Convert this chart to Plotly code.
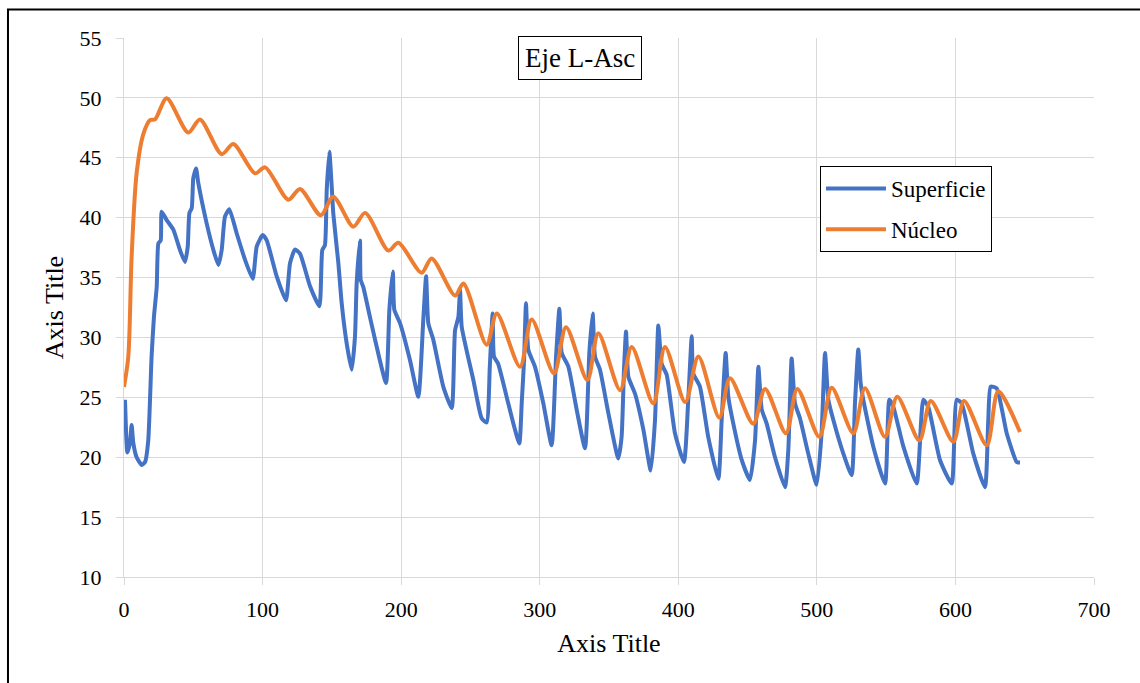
import plotly.graph_objects as go

# Superficie (blue) series
sup_x = [0.7, 1.4, 2.4, 4.3, 5.5, 6.7, 9.1, 12.8, 15.2, 17.5, 19.9, 21.6, 23.6, 24.8, 26.5, 27.2,
         30.8, 35.6, 40.4, 44, 46, 47.2, 48.9, 50, 52, 53.6, 59.7, 64.5, 68.1, 70.5, 72.9, 76,
         81.3, 87.3, 92.9, 95.8, 100.1, 103, 110.2, 116.9, 119.8, 123.4, 127, 134.2, 141, 143.1,
         145, 146.3, 148.2, 149.9, 151, 154.7, 157.1, 160.7, 164.3, 166.7, 167.9, 170.3, 170.8,
         172.7, 177.5, 182.4, 189.1, 191.5, 194, 195.1, 199.2, 206.4, 212.4, 216, 218, 219.6,
         223.2, 230.4, 236.5, 238.9, 241.3, 242.5, 243.7, 252.1, 258.1, 261.7, 264, 266, 267,
         270, 276.1, 281, 285.3, 287, 288.7, 290.1, 291.8, 296.6, 302.6, 308.6, 311.8, 314.2,
         315.9, 320.7, 326.7, 332.7, 335.8, 338.2, 339.9, 343.5, 349.5, 356.7, 359.1, 360.8,
         362.3, 364, 368.8, 374.8, 380.1, 383.2, 385.6, 388, 391.6, 397.6, 404.1, 407.2, 409.7,
         410.8, 415.6, 421.6, 428.9, 431.3, 434.2, 436.1, 439.7, 445.7, 451.7, 455.4, 457.8,
         460.2, 463.8, 469.8, 477.0, 479.4, 481.8, 484.2, 487.8, 493.8, 499.9, 503.4, 505.9,
         508.3, 511.9, 519.1, 525.1, 527.5, 529.9, 531.6, 533.5, 540.7, 549.2, 552.3, 555.2,
         562.4, 572.0, 576.8, 580.4, 588.9, 597.3, 600.9, 604.5, 612.9, 621.3, 623.7, 625.4,
         629.8, 637, 644.2, 646.6]
sup_y = [24.8, 22.4, 20.4, 21.2, 22.7, 21.2, 20.0, 19.35, 19.6, 21.4, 28.4, 31.7, 34.2, 37.85, 38.1, 40.5,
         39.8, 39.0, 37.3, 36.3, 37.6, 40.4, 40.8, 43.3, 44.1, 42.9, 39.5, 37.3, 36.05, 37.3, 40.1, 40.7,
         38.7, 36.5, 34.9, 37.6, 38.55, 38.1, 35.1, 33.1, 36.2, 37.35, 37.0, 34.3, 32.6, 37.3,
         37.7, 42.3, 45.5, 42.6, 40.4, 36.2, 32.85, 29.5, 27.3, 30.1, 34.5, 38.1, 34.8,
         34.2, 31.7, 29.2, 26.2, 32.3, 35.5, 32.3, 31.2, 28.1, 25.05, 31.5, 35.1, 31.2,
         29.8, 25.9, 24.1, 30.6, 31.7, 34.0, 30.9, 26.45, 23.25, 22.9, 27.6, 32.0, 28.4,
         27.8, 25.05, 22.8, 21.15, 24.5, 28.1, 32.85, 28.95, 27.55, 24.5, 21.0, 28.4, 32.4,
         28.7, 27.55, 23.95, 20.75, 28.7, 32.0, 28.4, 27.3, 23.7, 19.9, 21.7, 27.3,
         30.5, 26.7, 25.3, 22.3, 18.9, 23.1, 31.0, 27.8, 26.9, 22.0, 19.6, 24.8, 30.1,
         27.0, 25.9, 21.7, 18.2, 23.1, 28.7, 25.05, 22.8, 19.8, 18.1, 21.4, 27.55,
         24.0, 22.8, 20.0, 17.5, 20.6, 28.25, 24.5, 23.25, 20.3, 17.7, 22.0, 28.7,
         24.8, 23.1, 20.3, 18.5, 24.5, 29.0, 26.2, 24.8, 20.9, 17.8, 24.8, 24.2,
         20.9, 17.8, 24.8, 24.2, 19.75, 17.8, 24.8, 24.5, 20.3, 17.5, 23.1, 25.9,
         25.75, 22.0, 19.6, 19.55]

# Núcleo (orange) series
nuc_x = [0, 3.1, 5.5, 9.1, 14, 18.8, 22.4, 30.8, 46.4, 54.8, 70.5, 78.9, 94.5, 101.8, 118.6, 127,
         142, 151, 165.5, 174, 190.8, 198, 214.8, 222, 238.9, 244.9, 261.7, 269, 285.8, 294.2,
         310.3, 319, 334.4, 342.3, 358, 366.4, 382, 390.4, 405, 414.5, 429.6, 437.3, 454.1,
         462.6, 477.7, 485.9, 501.8, 510.7, 526.3, 534.7, 549.2, 558, 574, 582.2, 598.5, 606.2,
         622.6, 630.9, 646.6]
nuc_y = [25.86, 28.4, 36.7, 43.7, 47.0, 48.15, 48.2, 49.97, 47.1, 48.2, 45.3, 46.15, 43.7, 44.2, 41.5, 42.4,
         40.2, 41.75, 39.25, 40.4, 37.25, 37.9, 35.4, 36.6, 33.5, 34.5, 29.4, 32.0, 27.55, 31.5,
         27.0, 30.85, 26.45, 30.35, 25.6, 29.2, 24.5, 29.2, 24.6, 28.4, 23.3, 26.6, 22.8,
         25.7, 22.0, 25.7, 21.7, 25.8, 22.0, 25.75, 21.7, 25.05, 21.4, 24.7, 21.3, 24.7,
         21.0, 25.5, 22.1]

series_names = ["Superficie", "Núcleo"]
chart_title = "Eje L-Asc"
x_title = "Axis Title"
y_title = "Axis Title"

FONT = "Liberation Serif, Times New Roman, serif"
GRID = "#d9d9d9"

fig = go.Figure()
fig.add_trace(go.Scatter(x=sup_x, y=sup_y, mode="lines", name=series_names[0],
                         legendgroup="a",
                         line=dict(color="#4472C4", width=4, shape="spline", smoothing=0.5)))
fig.add_trace(go.Scatter(x=nuc_x, y=nuc_y, mode="lines", name=series_names[1],
                         legendgroup="b",
                         line=dict(color="#ED7D31", width=4, shape="spline", smoothing=0.8)))

fig.update_layout(
    width=1140, height=683,
    margin=dict(l=124, r=46, t=38, b=106),
    paper_bgcolor="white", plot_bgcolor="white",
    font=dict(family=FONT, color="black", size=22),
    showlegend=True,
    legend=dict(x=0.7175, y=0.7625, xanchor="left", yanchor="top",
                bordercolor="black", borderwidth=1, bgcolor="white",
                font=dict(family=FONT, size=23, color="black"),
                tracegroupgap=8, itemwidth=60),
    xaxis=dict(range=[0, 700], dtick=100, tick0=0, showgrid=True, gridcolor=GRID, gridwidth=1,
               showline=True, linecolor=GRID, linewidth=1, ticks="outside", tickcolor=GRID,
               ticklen=7, zeroline=False, ticklabelstandoff=6,
               tickfont=dict(family=FONT, size=22, color="black"),
               title=dict(text=x_title, font=dict(family=FONT, size=26, color="black"), standoff=12)),
    yaxis=dict(range=[10, 55], dtick=5, tick0=10, showgrid=True, gridcolor=GRID, gridwidth=1,
               showline=True, linecolor=GRID, linewidth=1, ticks="outside", tickcolor=GRID,
               ticklen=7, zeroline=False, ticklabelstandoff=10,
               tickfont=dict(family=FONT, size=22, color="black"),
               title=dict(text=y_title, font=dict(family=FONT, size=26, color="black"), standoff=8)),
    annotations=[dict(text=chart_title, xref="paper", yref="paper", x=0.470, y=0.962,
                      xanchor="center", yanchor="middle", showarrow=False,
                      font=dict(family=FONT, size=27, color="black"),
                      bordercolor="black", borderwidth=1, borderpad=6, bgcolor="white")],
    shapes=[dict(type="rect", xref="paper", yref="paper",
                 x0=-0.1196, x1=1.06, y0=-0.22, y1=1.0529,
                 line=dict(color="black", width=2), fillcolor="rgba(0,0,0,0)", layer="above")],
)

fig.write_html("out.html", config={"displayModeBar": False},
               post_script="document.body.style.margin='0';")
